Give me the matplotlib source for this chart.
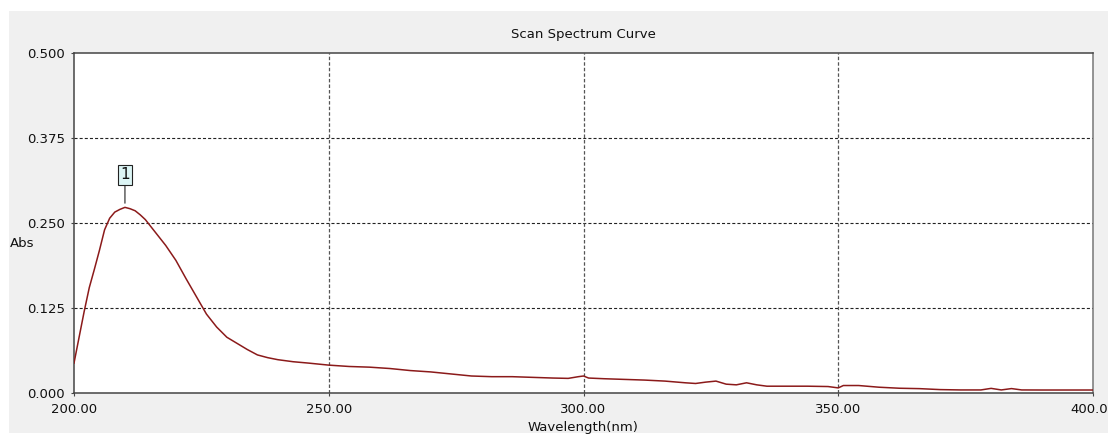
import matplotlib
matplotlib.use("Agg")
import matplotlib.pyplot as plt
from matplotlib.patches import Rectangle
from matplotlib.ticker import FormatStrFormatter

plt.rcParams['font.family'] = ['DejaVu Sans']
plt.rcParams['lines.scale_dashes'] = False

# Scan data: wavelength (nm) and absorbance
wavelength = [200, 201, 202, 203, 204, 205, 206, 207, 208, 209, 210, 211, 212, 213,
              214, 216, 218, 220, 222, 224, 226, 228, 230, 232, 234, 236, 238, 240,
              243, 246, 250, 254, 258, 262, 266, 270, 274, 278, 282, 286, 290, 294,
              297, 299, 300, 301, 304, 308, 312, 316, 320, 322, 324, 326, 328, 330,
              332, 334, 336, 340, 344, 348, 350, 351, 354, 358, 362, 366, 370, 374,
              378, 380, 382, 384, 386, 390, 395, 400]
absorbance = [0.044, 0.082, 0.120, 0.155, 0.182, 0.210, 0.240, 0.257, 0.266, 0.270,
              0.273, 0.271, 0.268, 0.262, 0.255, 0.236, 0.217, 0.195, 0.168, 0.142,
              0.116, 0.097, 0.082, 0.073, 0.064, 0.056, 0.052, 0.049, 0.046, 0.044,
              0.041, 0.039, 0.038, 0.036, 0.033, 0.031, 0.028, 0.025, 0.024, 0.024,
              0.023, 0.022, 0.0215, 0.024, 0.025, 0.022, 0.021, 0.020, 0.019, 0.0175,
              0.015, 0.014, 0.016, 0.0175, 0.013, 0.012, 0.015, 0.012, 0.010, 0.010,
              0.010, 0.0095, 0.0075, 0.011, 0.011, 0.0085, 0.007, 0.0064, 0.005,
              0.0045, 0.0045, 0.0068, 0.0045, 0.0065, 0.0045, 0.0044, 0.0044, 0.0044]

peak_label = "1"
peak_wavelength = 210
peak_abs = 0.273

x_ticks = [200, 250, 300, 350, 400]
y_ticks = [0.0, 0.125, 0.25, 0.375, 0.5]

FS = 9.5
W, H = 1108, 434
fig = plt.figure(figsize=(W / 100, H / 100), dpi=100, facecolor='white')

# grey window panel behind the plot
fig.patches.append(Rectangle((9 / W, 1 - 433 / H), 1 - 9 / W, (433 - 11) / H,
                             transform=fig.transFigure, facecolor='#f0f0f0',
                             edgecolor='none', zorder=-10))

ax = fig.add_axes([74 / W, 1 - 393 / H, (1093 - 74) / W, (393 - 53) / H])
ax.set_zorder(5)
ax.set_facecolor('white')

ax.plot(wavelength, absorbance, color='#8b1a1a', lw=1.1, zorder=3)

ax.set_xlim(200, 400)
ax.set_ylim(0, 0.5)
ax.set_xticks(x_ticks)
ax.set_yticks(y_ticks)
ax.xaxis.set_major_formatter(FormatStrFormatter('%.2f'))
ax.yaxis.set_major_formatter(FormatStrFormatter('%.3f'))

for v in y_ticks[1:-1]:
    ax.axhline(v, color='#222222', lw=0.8, ls=(0, (2.2, 1.5)), zorder=1)
for v in x_ticks[1:-1]:
    ax.axvline(v, color='#555555', lw=0.9, ls=(0, (2.5, 1.5)), zorder=1)

for side in ['left', 'top', 'bottom']:
    ax.spines[side].set_color('#444444')
    ax.spines[side].set_linewidth(1.1)
ax.spines['right'].set_color('#777777')
ax.spines['right'].set_linewidth(1.1)

ax.tick_params(direction='out', length=2.5, width=0.8, color='#444444',
               labelsize=FS, labelcolor='#111111', pad=4)
ax.tick_params(axis='x', pad=5)

ax.set_title('Scan Spectrum Curve', fontsize=FS, color='#111111', pad=11)
ax.set_xlabel('Wavelength(nm)', fontsize=FS, color='#111111', va='center')
ax.xaxis.set_label_coords(0.5, -0.1)
ax.set_ylabel('Abs', fontsize=FS, color='#111111', rotation=0, ha='center', va='center')
ax.yaxis.set_label_coords(-0.051, 0.441)

# peak marker: numbered tag on a short leader line
ax.annotate(peak_label, xy=(peak_wavelength, peak_abs), xytext=(0, 23.5),
            textcoords='offset points', ha='center', va='center',
            fontsize=11, color='#111111',
            bbox=dict(boxstyle='square,pad=0.15', facecolor='#dcf5f5',
                      edgecolor='#222222', lw=0.8),
            arrowprops=dict(arrowstyle='-', color='#222222', lw=0.8,
                            shrinkA=0, shrinkB=3),
            zorder=4)

fig.savefig('out.png', dpi=100, facecolor='white')
